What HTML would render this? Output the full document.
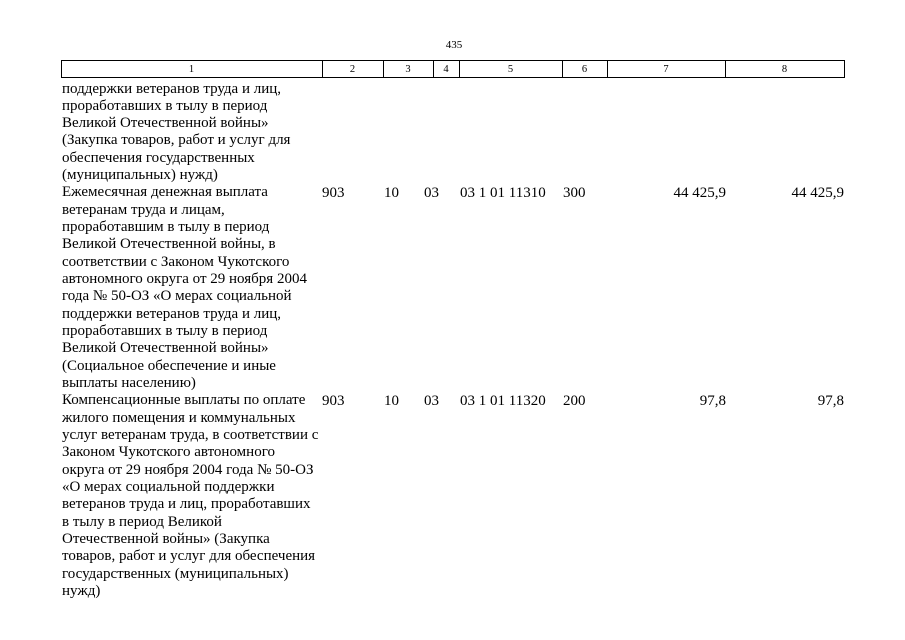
<!DOCTYPE html>
<html>
<head>
<meta charset="utf-8">
<style>
  html, body { margin: 0; padding: 0; background: #fff; }
  body { width: 905px; height: 640px; position: relative; overflow: hidden;
         font-family: "Liberation Serif", "DejaVu Serif", serif; color: #000; }
  .pn { position: absolute; left: 434px; top: 38px; width: 40px; text-align: center; font-size: 11px; line-height: 14px; }
  .hb { position: absolute; left: 61px; top: 60px; width: 782px; height: 16px; border: 1px solid #000; }
  .vl { position: absolute; top: 60px; width: 1px; height: 18px; background: #000; }
  .hc { position: absolute; top: 62.5px; font-size: 10.5px; text-align: center; line-height: 14px; }
  .txt { position: absolute; left: 62px; top: 80.5px; font-size: 15px; line-height: 17.33px; white-space: nowrap; }
  .d { position: absolute; font-size: 15px; line-height: 17.33px; white-space: nowrap; }
  .r { text-align: right; }
</style>
</head>
<body>
<div class="pn">435</div>
<div class="hb"></div>
<div class="vl" style="left:322px"></div>
<div class="vl" style="left:383px"></div>
<div class="vl" style="left:433px"></div>
<div class="vl" style="left:459px"></div>
<div class="vl" style="left:562px"></div>
<div class="vl" style="left:607px"></div>
<div class="vl" style="left:725px"></div>

<div class="hc" style="left:61px;width:261px">1</div>
<div class="hc" style="left:322px;width:61px">2</div>
<div class="hc" style="left:383px;width:50px">3</div>
<div class="hc" style="left:433px;width:26px">4</div>
<div class="hc" style="left:459px;width:103px">5</div>
<div class="hc" style="left:562px;width:45px">6</div>
<div class="hc" style="left:607px;width:118px">7</div>
<div class="hc" style="left:725px;width:119px">8</div>

<div class="txt">поддержки ветеранов труда и лиц,<br>проработавших в тылу в период<br>Великой Отечественной войны»<br>(Закупка товаров, работ и услуг для<br>обеспечения государственных<br>(муниципальных) нужд)<br>Ежемесячная денежная выплата<br>ветеранам труда и лицам,<br>проработавшим в тылу в период<br>Великой Отечественной войны, в<br>соответствии с Законом Чукотского<br>автономного округа от 29 ноября 2004<br>года № 50-ОЗ «О мерах социальной<br>поддержки ветеранов труда и лиц,<br>проработавших в тылу в период<br>Великой Отечественной войны»<br>(Социальное обеспечение и иные<br>выплаты населению)<br>Компенсационные выплаты по оплате<br>жилого помещения и коммунальных<br>услуг ветеранам труда, в соответствии с<br>Законом Чукотского автономного<br>округа от 29 ноября 2004 года № 50-ОЗ<br>«О мерах социальной поддержки<br>ветеранов труда и лиц, проработавших<br>в тылу в период Великой<br>Отечественной войны» (Закупка<br>товаров, работ и услуг для обеспечения<br>государственных (муниципальных)<br>нужд)</div>

<!-- row 1 -->
<div class="d" style="left:322px;top:184.5px">903</div>
<div class="d" style="left:384px;top:184.5px">10</div>
<div class="d" style="left:424px;top:184.5px">03</div>
<div class="d" style="left:460px;top:184.5px">03 1 01 11310</div>
<div class="d" style="left:563px;top:184.5px">300</div>
<div class="d r" style="left:626px;width:100px;top:184.5px">44 425,9</div>
<div class="d r" style="left:744px;width:100px;top:184.5px">44 425,9</div>

<!-- row 2 -->
<div class="d" style="left:322px;top:392.5px">903</div>
<div class="d" style="left:384px;top:392.5px">10</div>
<div class="d" style="left:424px;top:392.5px">03</div>
<div class="d" style="left:460px;top:392.5px">03 1 01 11320</div>
<div class="d" style="left:563px;top:392.5px">200</div>
<div class="d r" style="left:626px;width:100px;top:392.5px">97,8</div>
<div class="d r" style="left:744px;width:100px;top:392.5px">97,8</div>
</body>
</html>
